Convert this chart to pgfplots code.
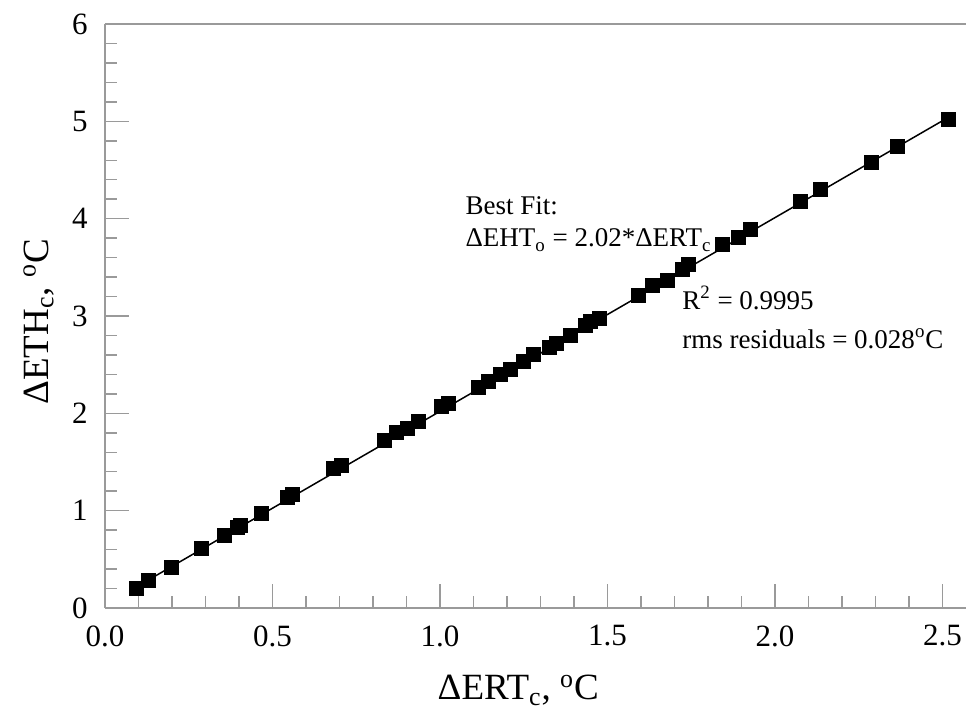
\documentclass[border=0pt]{standalone}
\usepackage{fontspec}
\setmainfont{Liberation Serif}
\usepackage{pgfplots}
\pgfplotsset{compat=1.18}
\definecolor{axgray}{HTML}{9A9A9A}
\pgfplotstableread{
x y
0.093 0.20
0.131 0.28
0.197 0.42
0.289 0.61
0.356 0.75
0.395 0.83
0.403 0.85
0.466 0.97
0.543 1.14
0.558 1.17
0.683 1.43
0.706 1.47
0.833 1.72
0.871 1.80
0.902 1.85
0.935 1.92
1.005 2.07
1.024 2.10
1.115 2.27
1.144 2.33
1.180 2.40
1.210 2.45
1.249 2.53
1.278 2.61
1.325 2.68
1.348 2.72
1.388 2.80
1.433 2.90
1.450 2.94
1.475 2.98
1.592 3.21
1.635 3.31
1.680 3.37
1.722 3.48
1.740 3.53
1.843 3.74
1.890 3.81
1.925 3.89
2.075 4.18
2.136 4.30
2.287 4.58
2.365 4.74
2.517 5.02
}\datatable
\begin{document}
\begin{tikzpicture}
\useasboundingbox (-52.5pt,-51.5pt) rectangle (430.5pt,304pt);
\begin{axis}[
  at={(0,0)}, anchor=south west,
  scale only axis,
  width=430.5pt, height=292pt,
  xmin=0, xmax=2.57, ymin=0, ymax=6,
  axis y line*=left,
  y axis line style={-},
  axis line style={axgray, line width=1pt},
  xtick={0,0.5,1,1.5,2,2.5}, minor x tick num=4,
  ytick={0,1,2,3,4,5,6}, minor y tick num=4,
  xtick pos=left, ytick pos=left,
  tick align=inside,
  major tick length=12pt, minor tick length=6pt,
  tick style={axgray, line width=0.75pt},
  /pgf/number format/assume math mode=true,
  x tick label style={/pgf/number format/fixed, /pgf/number format/fixed zerofill, /pgf/number format/precision=1,
     inner sep=0pt, anchor=north, yshift=-8.5pt, font=\fontsize{15.5}{18}\selectfont},
  y tick label style={inner sep=0pt, anchor=east, xshift=-8.5pt, font=\fontsize{15.5}{18}\selectfont},
  xlabel={ΔERT\textsubscript{c}, \textsuperscript{o}C},
  ylabel={ΔETH\textsubscript{c}, \textsuperscript{o}C},
  xlabel style={at={(axis description cs:0.48,-0.1575)}, anchor=base, inner sep=0pt, font=\fontsize{18.5}{22}\selectfont},
  ylabel style={at={(axis description cs:-0.066,0.49)}, anchor=base, inner sep=0pt, font=\fontsize{18.5}{22}\selectfont},
  clip=false,
]
\addplot[black, line width=0.75pt] coordinates {(0.093,0.215) (2.517,5.04)};
\addplot[only marks, mark=square*, mark size=3.5pt, black] table[x=x, y=y] {\datatable};
\node[anchor=base west, inner sep=0pt, font=\fontsize{13.5}{16}\selectfont] at (axis cs:1.075,4.04) {Best Fit:};
\node[anchor=base west, inner sep=0pt, font=\fontsize{13.5}{16}\selectfont] at (axis cs:1.075,3.71) {ΔEHT\textsubscript{o} = 2.02*ΔERT\textsubscript{c}};
\node[anchor=base west, inner sep=0pt, font=\fontsize{13.5}{16}\selectfont] at (axis cs:1.722,3.07) {R\textsuperscript{2} = 0.9995};
\node[anchor=base west, inner sep=0pt, font=\fontsize{13.5}{16}\selectfont] at (axis cs:1.722,2.67) {rms residuals = 0.028\textsuperscript{o}C};
\end{axis}
\end{tikzpicture}
\end{document}
